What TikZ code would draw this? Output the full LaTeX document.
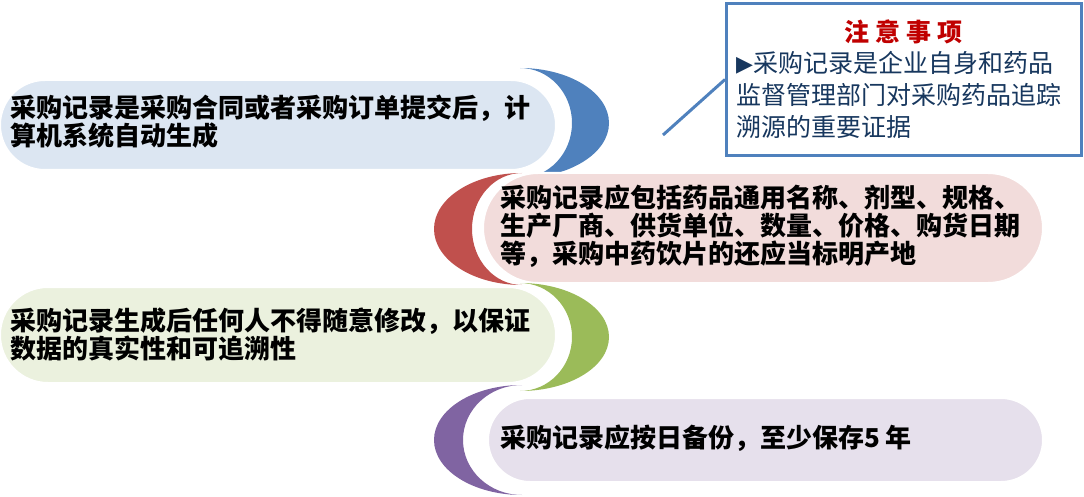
\documentclass[tikz,border=0pt]{standalone}
\usepackage{fontspec}
\newfontfamily\cjk{Noto Sans CJK SC}
\newfontfamily\symb{DejaVu Sans}
\usetikzlibrary{positioning}

\definecolor{acBlue}{HTML}{4F81BD}
\definecolor{ltBlue}{HTML}{DCE6F2}
\definecolor{acRed}{HTML}{C0504D}
\definecolor{ltRed}{HTML}{F2DCDB}
\definecolor{acGreen}{HTML}{9BBB59}
\definecolor{ltGreen}{HTML}{EBF1DE}
\definecolor{acPurple}{HTML}{8064A2}
\definecolor{ltPurple}{HTML}{E6E0EC}
\definecolor{noteInk}{HTML}{17375E}
\definecolor{noteRed}{HTML}{C00000}

\begin{document}
\begin{tikzpicture}[
  x=1pt, y=-1pt,
  pill/.style={draw=white, line width=2pt, inner sep=0pt},
  rtext/.style={font=\cjk\bfseries\fontsize{26}{28}\selectfont, align=left, inner sep=0pt, anchor=west},
  notebox/.style={draw=acBlue, line width=3pt, fill=white, minimum width=355pt, minimum height=152pt, inner sep=0pt},
  notetitle/.style={font=\cjk\bfseries\fontsize{25}{28}\selectfont, text=noteRed, inner sep=0pt},
  notebody/.style={font=\cjk\fontsize{25}{32}\selectfont, text=noteInk, align=left, inner sep=0pt, anchor=west},
  ptrline/.style={draw=acBlue, line width=3pt},
]
\useasboundingbox (0,0) rectangle (1084,497);

% ===== row 1 : blue =====
\fill[acBlue] (520,68) arc[start angle=90, end angle=-90, x radius=89pt, y radius=55pt]
              arc[start angle=-90, end angle=90, x radius=52pt, y radius=55pt] -- cycle;
\node[pill, fill=ltBlue, minimum width=556pt, minimum height=90pt, rounded corners=45pt] (gen) at (278,125) {};
\node[rtext] (genT) at (10,122) {采购记录是采购合同或者采购订单提交后，计\\算机系统自动生成};

% ===== row 2 : red =====
\fill[acRed] (522,173) arc[start angle=90, end angle=270, x radius=88pt, y radius=56pt]
             arc[start angle=270, end angle=90, x radius=50pt, y radius=56pt] -- cycle;
\node[pill, fill=ltRed, minimum width=560pt, minimum height=110pt, rounded corners=55pt] (cont) at (763,228) {};
\node[rtext] (contT) at (500,226) {采购记录应包括药品通用名称、剂型、规格、\\生产厂商、供货单位、数量、价格、购货日期\\等，采购中药饮片的还应当标明产地};

% ===== row 3 : green =====
\fill[acGreen] (520,283) arc[start angle=90, end angle=-90, x radius=89pt, y radius=54pt]
               arc[start angle=-90, end angle=90, x radius=52pt, y radius=54pt] -- cycle;
\node[pill, fill=ltGreen, minimum width=556pt, minimum height=96pt, rounded corners=48pt] (keep) at (278,335) {};
\node[rtext] (keepT) at (10,334) {采购记录生成后任何人不得随意修改，以保证\\数据的真实性和可追溯性};

% ===== row 4 : purple =====
\fill[acPurple] (522,385) arc[start angle=90, end angle=270, x radius=88pt, y radius=55pt]
                arc[start angle=270, end angle=90, x radius=59pt, y radius=55pt] -- cycle;
\node[pill, fill=ltPurple, minimum width=555pt, minimum height=84pt, rounded corners=42pt] (bak) at (765.5,440) {};
\node[rtext] (bakT) at (500,438) {采购记录应按日备份，至少保存5 年};

% ===== note callout =====
\coordinate (ptr) at (663,135);
\node[notebox] (note) at (904,79.5) {};
\draw[ptrline] (ptr) -- (note.west);
\node[notetitle] (noteT) at (903,32) {注\hspace{6pt}意\hspace{6pt}事\hspace{6pt}项};
\node[notebody] (noteB) at (736,95) {{\symb\fontsize{22}{22}\selectfont\raisebox{1pt}{▶}}采购记录是企业自身和药品\\监督管理部门对采购药品追踪\\溯源的重要证据};
\end{tikzpicture}
\end{document}
